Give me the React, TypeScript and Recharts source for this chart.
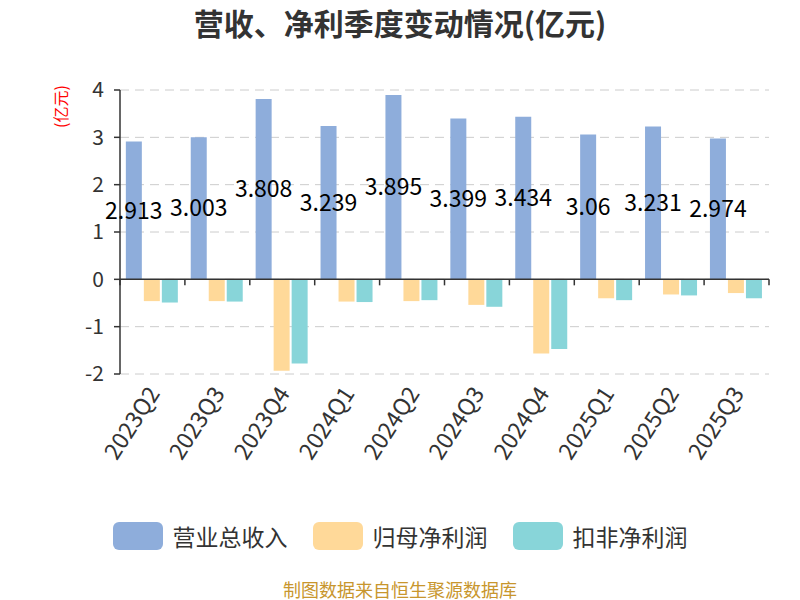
import React from "react"
import {
  BarChart,
  Bar,
  XAxis,
  YAxis,
  CartesianGrid,
  ReferenceLine,
  LabelList,
} from "recharts"

const categories = [
  "2023Q2",
  "2023Q3",
  "2023Q4",
  "2024Q1",
  "2024Q2",
  "2024Q3",
  "2024Q4",
  "2025Q1",
  "2025Q2",
  "2025Q3",
]
const revenue = [2.913, 3.003, 3.808, 3.239, 3.895, 3.399, 3.434, 3.06, 3.231, 2.974]
const netProfit = [-0.46, -0.46, -1.93, -0.47, -0.46, -0.54, -1.565, -0.4, -0.32, -0.29]
const deductedProfit = [-0.49, -0.47, -1.78, -0.48, -0.44, -0.58, -1.47, -0.44, -0.34, -0.4]
const yTicks = [-2, -1, 0, 1, 2, 3, 4]

const seriesNames = ["营业总收入", "归母净利润", "扣非净利润"]
const colors = ["#8eaddb", "#ffd999", "#88d5d9"]

const data = categories.map((c, i) => ({
  name: c,
  revenue: revenue[i],
  netProfit: netProfit[i],
  deductedProfit: deductedProfit[i],
}))

const FONT = "'Noto Sans CJK SC', 'Noto Sans', sans-serif"
const W = 800
const H = 600
const MARGIN = { top: 90, right: 31, bottom: 0, left: 0 }
const Y_AXIS_W = 120
const X_AXIS_H = 226
const plotTop = MARGIN.top
const plotBottom = H - X_AXIS_H
const plotLeft = Y_AXIS_W
const plotRight = W - MARGIN.right
const band = (plotRight - plotLeft) / categories.length
// zero line sits at 2/6 of the plot height above the bottom (domain -2..4)
const zeroY = plotBottom - ((0 - -2) / (4 - -2)) * (plotBottom - plotTop)

function XTick(props: any) {
  const { x, payload, index } = props
  const ax = x
  const ay = plotBottom + 14
  return (
    <g>
      {index === 0 && (
        <line x1={x - band / 2} x2={x - band / 2} y1={zeroY} y2={zeroY + 6} stroke="#333" strokeWidth={1.5} />
      )}
      <line x1={x + band / 2} x2={x + band / 2} y1={zeroY} y2={zeroY + 6} stroke="#333" strokeWidth={1.5} />
      <text
        x={ax}
        y={ay}
        textAnchor="end"
        dominantBaseline="central"
        fontSize={23}
        fill="#333"
        fontFamily={FONT}
        transform={`rotate(-57 ${ax} ${ay})`}
      >
        {payload.value}
      </text>
    </g>
  )
}

export default function App() {
  return (
    <div
      style={{
        position: "absolute",
        left: 0,
        top: 0,
        width: W,
        height: H,
        background: "#fff",
        fontFamily: FONT,
      }}
    >
      <div
        style={{
          position: "absolute",
          top: 2,
          width: W,
          textAlign: "center",
          fontSize: 30,
          lineHeight: "40px",
          fontWeight: "bold",
          color: "#333",
        }}
      >
        营收、净利季度变动情况(亿元)
      </div>
      <div
        style={{
          position: "absolute",
          left: 48,
          top: 104,
          width: 24,
          fontSize: 16,
          color: "red",
          transform: "rotate(-90deg)",
          transformOrigin: "center",
          whiteSpace: "nowrap",
        }}
      >
        (亿元)
      </div>
      <BarChart
        width={W}
        height={H}
        data={data}
        margin={MARGIN}
        barCategoryGap="9%"
        barGap={2}
      >
        <CartesianGrid vertical={false} stroke="#ccc" strokeDasharray="9 6" />
        <XAxis
          dataKey="name"
          height={X_AXIS_H}
          axisLine={false}
          tickLine={false}
          interval={0}
          tick={<XTick />}
        />
        <YAxis
          width={Y_AXIS_W}
          domain={[-2, 4]}
          ticks={yTicks}
          interval={0}
          tick={{ fontSize: 21, fill: "#333", fontFamily: FONT }}
          tickSize={6}
          tickMargin={10}
          axisLine={{ stroke: "#333", strokeWidth: 1.5 }}
          tickLine={{ stroke: "#333", strokeWidth: 1.5 }}
        />
        <ReferenceLine y={0} stroke="#333" strokeWidth={1.5} />
        <Bar dataKey="revenue" name={seriesNames[0]} fill={colors[0]} isAnimationActive={false}>
          <LabelList
            dataKey="revenue"
            position="center"
            fill="#000"
            fontSize={23}
            fontFamily={FONT}
          />
        </Bar>
        <Bar dataKey="netProfit" name={seriesNames[1]} fill={colors[1]} isAnimationActive={false} />
        <Bar dataKey="deductedProfit" name={seriesNames[2]} fill={colors[2]} isAnimationActive={false} />
      </BarChart>
      <div
        style={{
          position: "absolute",
          top: 522,
          height: 28,
          width: W,
          display: "flex",
          justifyContent: "center",
          alignItems: "center",
          gap: 25,
        }}
      >
        {seriesNames.map((n, i) => (
          <div key={n} style={{ display: "flex", alignItems: "center", gap: 10 }}>
            <div style={{ width: 50, height: 28, borderRadius: 6, background: colors[i] }} />
            <span style={{ fontSize: 23, lineHeight: "28px", color: "#333" }}>{n}</span>
          </div>
        ))}
      </div>
      <div
        style={{
          position: "absolute",
          top: 579,
          width: W,
          textAlign: "center",
          fontSize: 18,
          lineHeight: "20px",
          color: "#c8962d",
        }}
      >
        制图数据来自恒生聚源数据库
      </div>
    </div>
  )
}
